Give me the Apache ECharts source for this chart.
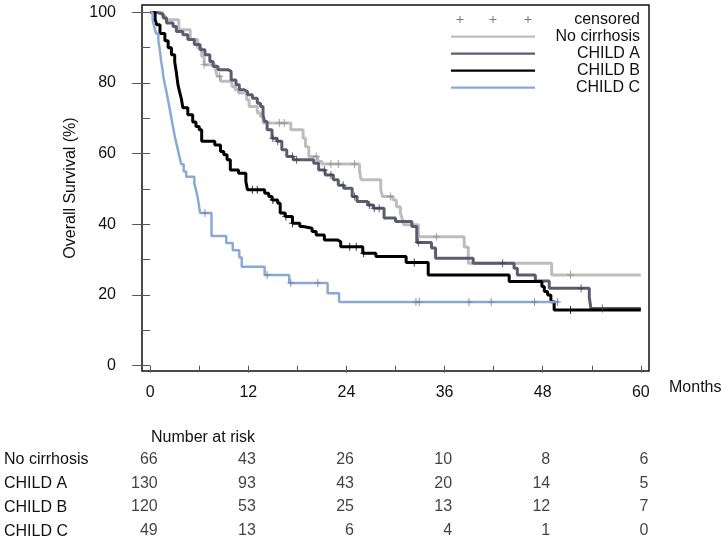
<!DOCTYPE html>
<html><head><meta charset="utf-8">
<script src="https://cdn.jsdelivr.net/npm/echarts@6/dist/echarts.min.js"></script>
<style>html,body{margin:0;padding:0;background:#fff}#c{width:728px;height:543px}</style>
</head><body><div id="c"></div>
<script>
// ---- Kaplan-Meier step data (months, % surviving) ----
const ncTime = [0, 1.5, 1.9, 3.5, 4.9, 5.8, 6.3, 6.6, 8.0, 8.2, 8.6, 10.0, 10.4, 10.8, 11.8, 12.1, 13.1, 13.5, 13.8, 17.2, 18.7, 19.0, 19.4, 20.5, 21.0, 25.6, 25.8, 28.2, 28.4, 29.7, 30.1, 30.6, 30.8, 31.0, 32.8, 38.4, 38.9, 49.1, 60];
const ncSurv = [100, 98.9, 97.9, 95.1, 92.3, 89.9, 87.5, 85.2, 83.8, 81.9, 80.5, 79.0, 78.1, 77.2, 75.3, 73.4, 71.5, 70.5, 68.7, 66.8, 64.4, 62.0, 59.2, 57.8, 57.1, 55.0, 52.6, 49.8, 47.9, 46.9, 45.0, 43.2, 41.8, 39.9, 36.5, 33.6, 29.0, 25.7, 25.7];
const ncCensT = [6.6, 8.5, 15.8, 16.4, 20.3, 22.1, 23.0, 25.0, 29.4, 35.0, 51.4];
const ncCensS = [85.2, 81.9, 68.7, 68.7, 59.2, 57.1, 57.1, 57.1, 47.9, 36.5, 25.7];

const aTime = [0, 0.8, 1.6, 2.0, 2.8, 3.2, 4.0, 4.6, 5.4, 6.1, 6.7, 7.3, 7.7, 8.3, 9.5, 9.9, 10.5, 10.9, 11.5, 11.9, 12.5, 13.1, 13.5, 13.8, 14.0, 14.3, 14.9, 15.5, 16.1, 16.7, 17.5, 20.0, 20.6, 21.4, 22.4, 23.0, 23.7, 24.7, 25.3, 26.6, 27.3, 28.6, 30.0, 32.0, 32.6, 34.4, 34.9, 39.5, 44.5, 44.9, 47.1, 48.8, 53.7, 53.9, 60];
const aSurv = [100, 99.5, 98.4, 97.0, 96.0, 94.6, 93.7, 92.3, 90.9, 89.4, 88.0, 86.1, 84.7, 83.8, 83.3, 80.9, 79.5, 78.1, 77.6, 76.7, 75.7, 74.3, 73.4, 71.0, 69.1, 66.8, 64.4, 63.5, 61.1, 59.2, 58.3, 57.3, 55.4, 54.0, 52.6, 51.1, 50.2, 47.9, 46.5, 45.5, 44.6, 41.8, 40.8, 39.4, 34.9, 33.3, 30.4, 29.0, 27.6, 25.7, 24.0, 21.9, 19.3, 16.2, 16.2];
const aCensT = [15.0, 15.6, 17.4, 17.9, 21.3, 22.1, 23.6, 25.0, 26.8, 27.4, 28.0, 32.8, 43.1, 52.7, 55.3];
const aCensS = [64.4, 63.5, 59.2, 58.3, 55.4, 54.0, 51.1, 47.9, 45.5, 44.6, 44.6, 34.9, 29.0, 21.9, 16.2];

const bTime = [0, 0.6, 0.8, 1.2, 1.8, 2.2, 2.6, 3.0, 3.2, 3.4, 3.6, 3.8, 4.0, 4.6, 5.2, 5.6, 6.0, 6.3, 7.9, 8.6, 9.0, 9.4, 9.8, 10.8, 11.7, 11.9, 14.0, 14.5, 14.9, 15.6, 15.9, 16.5, 17.4, 18.3, 18.7, 19.8, 20.3, 21.3, 22.9, 23.3, 26.0, 27.6, 31.3, 34.0, 43.9, 47.9, 48.2, 48.6, 49.0, 49.4, 60];
const bSurv = [100, 98.0, 96.5, 94.0, 92.0, 90.0, 88.0, 86.0, 83.0, 79.5, 77.5, 75.7, 73.0, 71.0, 69.0, 67.7, 66.8, 63.5, 62.5, 60.6, 59.7, 58.3, 55.4, 54.5, 52.1, 49.8, 48.8, 47.9, 46.9, 46.0, 43.2, 42.2, 40.3, 39.4, 38.9, 38.0, 37.0, 35.6, 35.1, 33.7, 31.8, 30.9, 29.2, 25.7, 23.8, 22.4, 21.0, 20.0, 18.1, 15.8, 15.8];
const bCensT = [12.5, 13.1, 15.0, 16.6, 17.4, 24.4, 25.2, 26.1, 32.3, 51.4];
const bCensS = [49.8, 49.8, 46.9, 42.2, 40.3, 33.7, 33.7, 31.8, 29.2, 15.8];

const cTime = [0, 0.3, 0.5, 0.7, 1.0, 1.2, 1.35, 1.5, 1.6, 1.8, 2.0, 2.2, 2.4, 2.6, 2.8, 3.0, 3.2, 3.4, 3.6, 3.8, 4.1, 4.4, 5.4, 5.6, 5.8, 5.95, 6.1, 7.5, 9.3, 10.1, 10.9, 11.2, 14.0, 17.0, 21.7, 23.1, 50.0];
const cSurv = [100, 98, 96, 94, 92, 89, 86, 84, 82, 79.5, 77.5, 75, 72.5, 70, 67.5, 65, 63, 61, 59, 57, 55, 53.5, 51.5, 49.8, 47.7, 45.6, 43.2, 36.7, 34.7, 32.7, 30.6, 28.0, 25.7, 23.4, 20.5, 18.0, 18.0];
const cCensT = [6.7, 14.3, 17.2, 20.5, 32.5, 32.9, 39.0, 41.7, 47.0, 49.8];
const cCensS = [43.2, 25.7, 23.4, 23.4, 18.0, 18.0, 18.0, 18.0, 18.0, 18.0];

// ---- axis ticks ----
const xMajor = [0, 12, 24, 36, 48, 60];
const xMinor = [6, 18, 30, 42, 54];
const yMajor = [0, 20, 40, 60, 80, 100];
const yMinor = [10, 30, 50, 70, 90];

// ---- number at risk ----
const groupNames = ['No cirrhosis', 'CHILD A', 'CHILD B', 'CHILD C'];
const riskTimes = [0, 12, 24, 36, 48, 60];
const riskNoCirr = [66, 43, 26, 10, 8, 6];
const riskA = [130, 93, 43, 20, 14, 5];
const riskB = [120, 53, 25, 13, 12, 7];
const riskC = [49, 13, 6, 4, 1, 0];

const FONT = '"Liberation Sans", Arial, sans-serif';
const TXT = '#111';
const pairs = (t, s) => t.map((x, i) => [x, s[i]]);
const CROSS = 'path://M0,3.5h7v1h-7z M3,0h1v8h-1z';
const LEG_CROSS = 'path://M0,0 M84,10 M5.5,4.5h7v1h-7z M8.5,1.5h1v7h-1z M38.5,4.5h7v1h-7z M41.5,1.5h1v7h-1z M73.5,4.5h7v1h-7z M76.5,1.5h1v7h-1z';
const LEG_LINE = 'path://M0,0 M84,10 M0,3.9h84v2.3h-84z';

const groups = [
  {name: groupNames[0], color: '#bdbdbd', cc: '#8c8c8c', w: 3, t: ncTime, s: ncSurv, ct: ncCensT, cs: ncCensS},
  {name: groupNames[1], color: '#5c5c70', cc: '#3e3e50', w: 3, t: aTime, s: aSurv, ct: aCensT, cs: aCensS},
  {name: groupNames[2], color: '#000000', cc: '#000000', w: 3, t: bTime, s: bSurv, ct: bCensT, cs: bCensS},
  {name: groupNames[3], color: '#8aaad6', cc: '#6d7c95', w: 2.5, t: cTime, s: cSurv, ct: cCensT, cs: cCensS}
];
const riskRows = [riskNoCirr, riskA, riskB, riskC];

const series = [];
series.push({type: 'scatter', name: 'censored', data: [], itemStyle: {color: '#555'}});
groups.forEach(g => series.push({
  type: 'line', name: g.name, step: 'end', data: pairs(g.t, g.s),
  showSymbol: false, symbol: 'none', xAxisIndex: 0, yAxisIndex: 0,
  lineStyle: {color: g.color, width: g.w}, itemStyle: {color: g.color}, z: 2
}));
groups.forEach(g => series.push({
  type: 'scatter', name: g.name + ' (censor)', data: pairs(g.ct, g.cs),
  xAxisIndex: 0, yAxisIndex: 0, symbol: CROSS, symbolSize: [7, 8],
  itemStyle: {color: g.cc}, z: 3, silent: true
}));
const riskData = [];
riskRows.forEach((row, r) => row.forEach((n, i) => riskData.push([riskTimes[i], r, n])));
series.push({
  type: 'scatter', name: 'risk', data: riskData, xAxisIndex: 2, yAxisIndex: 2,
  symbolSize: 1, itemStyle: {color: 'rgba(0,0,0,0)'}, silent: true,
  label: {show: true, position: [8, 0], align: 'right', verticalAlign: 'middle',
    formatter: p => String(p.value[2]), fontSize: 16, fontFamily: FONT, color: TXT}
});

const chart = echarts.init(document.getElementById('c'), null, {renderer: 'canvas'});
chart.setOption({
  animation: false,
  backgroundColor: '#fff',
  title: {text: 'Number at risk', left: 151, top: 430, padding: 0,
    textStyle: {fontSize: 16, fontWeight: 'normal', fontFamily: FONT, color: TXT}},
  legend: {
    orient: 'vertical', left: 451, top: 11, itemWidth: 84, itemHeight: 10, itemGap: 0,
    selectedMode: false, padding: 0,
    data: [{name: 'censored', icon: LEG_CROSS},
      {name: groupNames[0], icon: LEG_LINE}, {name: groupNames[1], icon: LEG_LINE},
      {name: groupNames[2], icon: LEG_LINE}, {name: groupNames[3], icon: LEG_LINE}],
    formatter: n => '{r|' + n + '}',
    textStyle: {fontFamily: FONT, fontSize: 16, color: TXT, lineHeight: 17,
      rich: {r: {width: 100, align: 'right', fontSize: 16, fontFamily: FONT, color: TXT, lineHeight: 17}}}
  },
  grid: [
    {left: 142, top: 5, width: 507, height: 366, show: true, borderColor: '#111', borderWidth: 1.5, containLabel: false},
    {left: 142, top: 448, width: 507, height: 102, containLabel: false}
  ],
  xAxis: [
    {type: 'value', gridIndex: 0, min: -1, max: 61, position: 'bottom',
      axisLine: {show: false}, splitLine: {show: false},
      axisTick: {show: true, customValues: xMajor, length: 7, lineStyle: {color: '#555', width: 1}},
      axisLabel: {customValues: xMajor, margin: 14, fontSize: 16, fontFamily: FONT, color: TXT},
      name: 'Months', nameLocation: 'end', nameGap: 20,
      nameTextStyle: {fontSize: 16, fontFamily: FONT, color: TXT, verticalAlign: 'top', padding: [14, 0, 0, 0]}},
    {type: 'value', gridIndex: 0, min: -1, max: 61, position: 'bottom',
      axisLine: {show: false}, splitLine: {show: false}, axisLabel: {show: false},
      axisTick: {show: true, customValues: xMinor, length: 5, lineStyle: {color: '#555', width: 1}}},
    {type: 'value', gridIndex: 1, min: -1, max: 61, show: false}
  ],
  yAxis: [
    {type: 'value', gridIndex: 0, min: -1.5, max: 102.1, position: 'left',
      axisLine: {show: false}, splitLine: {show: false},
      axisTick: {show: true, customValues: yMajor, length: 18, lineStyle: {color: '#555', width: 1}},
      axisLabel: {customValues: yMajor, margin: 26, fontSize: 16, fontFamily: FONT, color: TXT},
      name: 'Overall Survival (%)', nameLocation: 'middle', nameGap: 62, nameRotate: 90,
      nameTextStyle: {fontSize: 16, fontFamily: FONT, color: TXT}},
    {type: 'value', gridIndex: 0, min: -1.5, max: 102.1, position: 'left',
      axisLine: {show: false}, splitLine: {show: false}, axisLabel: {show: false},
      axisTick: {show: true, customValues: yMinor, length: 9, lineStyle: {color: '#555', width: 1}}},
    {type: 'category', gridIndex: 1, data: groupNames, inverse: true,
      axisLine: {show: false}, axisTick: {show: false}, splitLine: {show: false},
      axisLabel: {align: 'left', margin: 138, fontSize: 16, fontFamily: FONT, color: TXT}}
  ],
  series: series
});
</script>
</body></html>
